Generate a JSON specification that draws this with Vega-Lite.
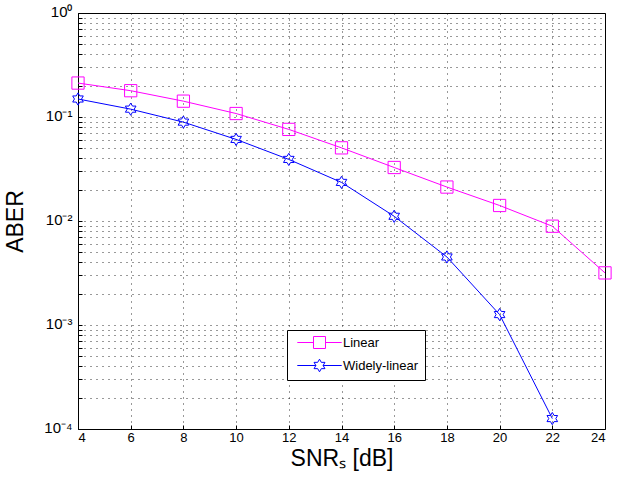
{
  "$schema": "https://vega.github.io/schema/vega-lite/v6.json",
  "autosize": "none",
  "width": 527,
  "height": 416,
  "padding": {"left": 78, "top": 13, "right": 30, "bottom": 50},
  "background": "white",
  "config": {
    "font": "Liberation Sans",
    "view": {"stroke": "#000", "strokeWidth": 1},
    "axis": {
      "labelFont": "Liberation Sans",
      "titleFont": "Liberation Sans",
      "labelColor": "#000",
      "titleColor": "#000",
      "titleFontWeight": "normal",
      "labelFontSize": 13,
      "domain": false,
      "grid": true,
      "gridColor": "#000",
      "gridOpacity": 0.8,
      "gridDash": [1, 5],
      "tickColor": "#000",
      "tickSize": -4
    },
    "legend": {
      "orient": "none",
      "legendX": 209,
      "legendY": 317,
      "fillColor": "white",
      "strokeColor": "#000",
      "padding": 6,
      "cornerRadius": 0,
      "labelFont": "Liberation Sans",
      "labelFontSize": 13,
      "labelColor": "#000",
      "symbolSize": 144,
      "symbolOffset": 20,
      "labelOffset": 17,
      "rowPadding": 6,
      "symbolStrokeWidth": 1,
      "symbolFillColor": "transparent"
    }
  },
  "data": {
    "values": [
      {"snr": 4, "aber": 0.212, "series": "Linear"},
      {"snr": 6, "aber": 0.179, "series": "Linear"},
      {"snr": 8, "aber": 0.142, "series": "Linear"},
      {"snr": 10, "aber": 0.108, "series": "Linear"},
      {"snr": 12, "aber": 0.076, "series": "Linear"},
      {"snr": 14, "aber": 0.0505, "series": "Linear"},
      {"snr": 16, "aber": 0.0327, "series": "Linear"},
      {"snr": 18, "aber": 0.0212, "series": "Linear"},
      {"snr": 20, "aber": 0.0141, "series": "Linear"},
      {"snr": 22, "aber": 0.00891, "series": "Linear"},
      {"snr": 24, "aber": 0.00317, "series": "Linear"},
      {"snr": 4, "aber": 0.149, "series": "Widely-linear"},
      {"snr": 6, "aber": 0.119, "series": "Widely-linear"},
      {"snr": 8, "aber": 0.0893, "series": "Widely-linear"},
      {"snr": 10, "aber": 0.0609, "series": "Widely-linear"},
      {"snr": 12, "aber": 0.0391, "series": "Widely-linear"},
      {"snr": 14, "aber": 0.0235, "series": "Widely-linear"},
      {"snr": 16, "aber": 0.0111, "series": "Widely-linear"},
      {"snr": 18, "aber": 0.00451, "series": "Widely-linear"},
      {"snr": 20, "aber": 0.00126, "series": "Widely-linear"},
      {"snr": 22, "aber": 0.000126, "series": "Widely-linear"}
    ]
  },
  "encoding": {
    "x": {
      "field": "snr",
      "type": "quantitative",
      "scale": {"domain": [4, 24], "nice": false, "zero": false},
      "axis": {
        "values": [4, 6, 8, 10, 12, 14, 16, 18, 20, 22, 24],
        "title": "SNRₛ [dB]",
        "titleFontSize": 23,
        "titlePadding": 3,
        "labelPadding": 6
      }
    },
    "y": {
      "field": "aber",
      "type": "quantitative",
      "scale": {"type": "log", "domain": [0.0001, 1], "nice": false},
      "axis": {
        "values": [0.0001, 0.0002, 0.0003, 0.0004, 0.0005, 0.0006, 0.0007, 0.0008, 0.0009,
                   0.001, 0.002, 0.003, 0.004, 0.005, 0.006, 0.007, 0.008, 0.009,
                   0.01, 0.02, 0.03, 0.04, 0.05, 0.06, 0.07, 0.08, 0.09,
                   0.1, 0.2, 0.3, 0.4, 0.5, 0.6, 0.7, 0.8, 0.9, 1],
        "labelExpr": "datum.value == 1 ? '10⁰' : datum.value == 0.1 ? '10⁻¹' : datum.value == 0.01 ? '10⁻²' : datum.value == 0.001 ? '10⁻³' : datum.value == 0.0001 ? '10⁻⁴' : ''",
        "labelPadding": 10,
        "labelFontSize": 15,
        "labelOffset": -2,
        "title": "ABER",
        "titleFontSize": 23,
        "titlePadding": 16
      }
    },
    "color": {
      "field": "series",
      "type": "nominal",
      "scale": {"domain": ["Linear", "Widely-linear"], "range": ["#ff00ff", "#0000ff"]},
      "legend": {"title": null}
    }
  },
  "layer": [
    {
      "mark": {"type": "point", "filled": false, "size": 0, "strokeWidth": 1, "opacity": 1},
      "encoding": {
        "shape": {
          "field": "series",
          "type": "nominal",
          "scale": {"domain": ["Linear", "Widely-linear"], "range": ["M-3.7,0H-1M1,0H3.7M-1,-1H1V1H-1Z", "M-3.7,0H-0.6M0.6,0H3.7M0,-1.05L0.303,-0.525L0.909,-0.525L0.606,0L0.909,0.525L0.303,0.525L0,1.05L-0.303,0.525L-0.909,0.525L-0.606,0L-0.909,-0.525L-0.303,-0.525Z"]},
          "legend": {"title": null}
        }
      }
    },
    {
      "mark": {"type": "line", "strokeWidth": 1}
    },
    {
      "transform": [{"filter": "datum.series === 'Linear'"}],
      "mark": {"type": "point", "filled": false, "size": 150, "strokeWidth": 1, "opacity": 1, "shape": "square"}
    },
    {
      "transform": [{"filter": "datum.series === 'Widely-linear'"}],
      "mark": {"type": "point", "filled": false, "size": 150, "strokeWidth": 1, "opacity": 1, "shape": "M0,-1L0.289,-0.5L0.866,-0.5L0.577,0L0.866,0.5L0.289,0.5L0,1L-0.289,0.5L-0.866,0.5L-0.577,0L-0.866,-0.5L-0.289,-0.5Z"}
    }
  ]
}
